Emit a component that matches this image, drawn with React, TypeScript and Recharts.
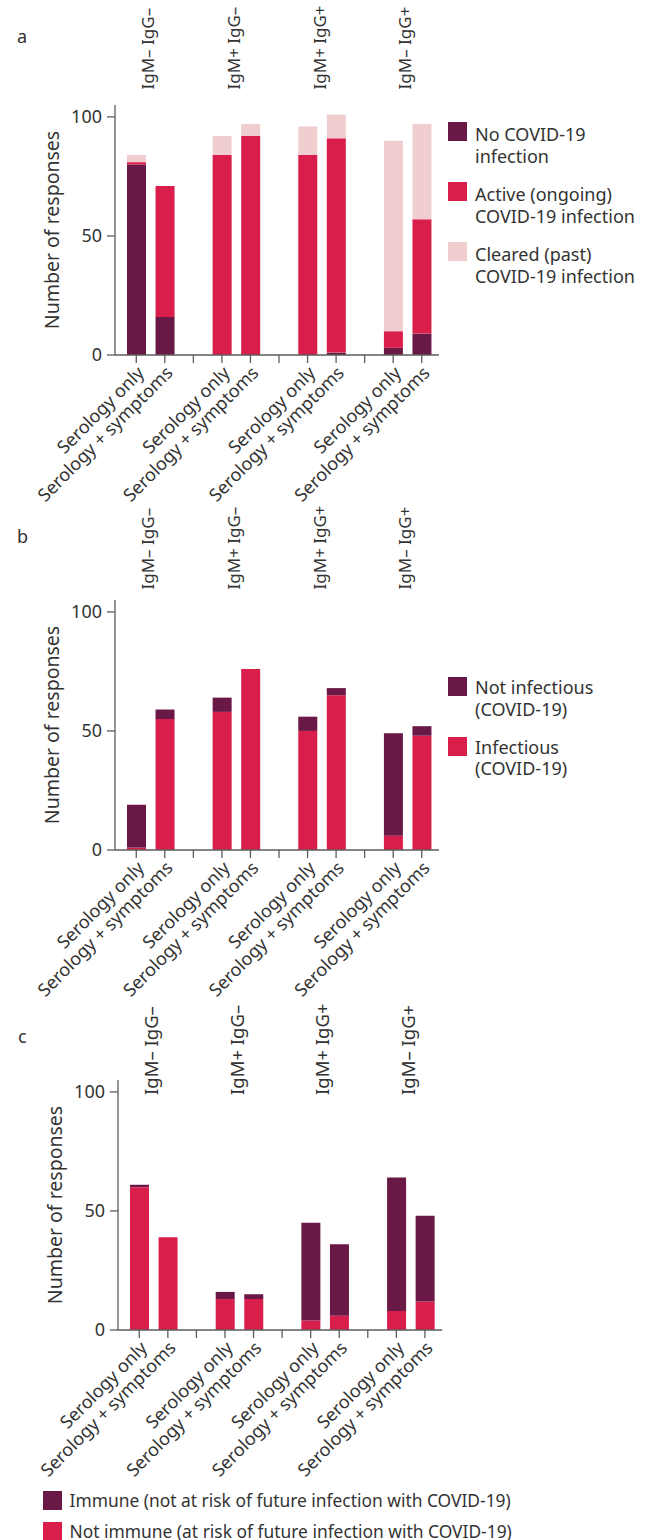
import { BarChart, Bar, XAxis, YAxis, Legend } from 'recharts';

const groups = ['IgM– IgG–', 'IgM+ IgG–', 'IgM+ IgG+', 'IgM– IgG+'];
const methods = ['Serology only', 'Serology + symptoms'];
const yTicks = [0, 50, 100];

// panel a
const noInfection = [80, 16, 0, 0, 0, 1, 3, 9];
const activeInfection = [1, 55, 84, 92, 84, 90, 7, 48];
const clearedInfection = [3, 0, 8, 5, 12, 10, 80, 40];

// panel b
const notInfectious = [18, 4, 6, 0, 6, 3, 43, 4];
const infectious = [1, 55, 58, 76, 50, 65, 6, 48];

// panel c
const immune = [1, 0, 3, 2, 41, 30, 56, 36];
const notImmune = [60, 39, 13, 13, 4, 6, 8, 12];

const FONT = '"Noto Sans", "DejaVu Sans", sans-serif';
const TEXT = '#333333';
const AXIS = '#5c5c5c';
const DARK = '#6a1845';
const RED = '#da1e4b';
const PINK = '#f0cdce';

type Row = { key: string; group: string; method: string; [k: string]: string | number | undefined };

// one row per bar, plus an empty slot between groups
function buildRows(series: Record<string, number[]>): Row[] {
  const rows: Row[] = [];
  groups.forEach((group, gi) => {
    methods.forEach((method, mi) => {
      const row: Row = { key: `${gi}-${mi}`, group, method };
      Object.keys(series).forEach((s) => {
        row[s] = series[s][gi * 2 + mi];
      });
      rows.push(row);
    });
    if (gi < groups.length - 1) rows.push({ key: `gap-${gi}`, group: '', method: '' });
  });
  return rows;
}

const rowsA = buildRows({ noInfection, activeInfection, clearedInfection });
const rowsB = buildRows({ notInfectious, infectious });
const rowsC = buildRows({ immune, notImmune });

function GroupTick(props: any) {
  const { x, y, payload, rows, shift, size } = props;
  const row = rows.find((r: Row) => r.key === payload.value);
  if (!row || row.method !== methods[0]) return <g />;
  const cx = x + (payload.offset ?? 14.3) - 2;
  const cy = y + shift;
  return (
    <text
      x={cx}
      y={cy}
      dy="0.35em"
      transform={`rotate(-90, ${cx}, ${cy})`}
      textAnchor="start"
      fill={TEXT}
      fontSize={size}
      fontFamily={FONT}
    >
      {row.group}
    </text>
  );
}

function LegendBox(props: any) {
  const { payload, order, itemHeight, textOffset, fontSize } = props;
  const items = order
    .map((k: string) => (payload || []).find((p: any) => p.dataKey === k))
    .filter(Boolean);
  return (
    <div style={{ fontFamily: FONT, fontSize, color: TEXT, lineHeight: '21.5px' }}>
      {items.map((it: any) => (
        <div key={it.dataKey} style={{ position: 'relative', height: itemHeight }}>
          <span
            style={{ position: 'absolute', left: 0, top: 0, width: 19, height: 19, background: it.color }}
          />
          <div style={{ position: 'absolute', left: 27, top: textOffset, whiteSpace: 'pre' }}>{it.value}</div>
        </div>
      ))}
    </div>
  );
}

type BarDef = { key: string; name: string; fill: string };

function Panel(props: {
  rows: Row[];
  bars: BarDef[];
  legendOrder: string[];
  legendLeft: number;
  legendTop: number;
  legendFont: number;
  itemHeight: number;
  textOffset: number;
  labelShift: number;
  labelSize: number;
  width: number;
  height: number;
  marginRight: number;
  marginBottom: number;
}) {
  const { rows, bars } = props;
  const axisStyle = { stroke: AXIS, strokeWidth: 1.3 };
  return (
    <BarChart
      width={props.width}
      height={props.height}
      data={rows}
      margin={{ top: 0, right: props.marginRight, bottom: props.marginBottom, left: 0 }}
      barSize={19}
    >
      <XAxis
        xAxisId="top"
        orientation="top"
        dataKey="key"
        height={105}
        padding={{ left: 7, right: 3 }}
        axisLine={false}
        tickLine={false}
        tickSize={0}
        tickMargin={0}
        interval={0}
        tick={(p: any) => <GroupTick {...p} rows={rows} shift={props.labelShift} size={props.labelSize} />}
      />
      <XAxis
        xAxisId="bottom"
        dataKey="key"
        height={155}
        padding={{ left: 7, right: 3 }}
        interval={0}
        angle={-45}
        textAnchor="end"
        tickSize={8}
        tickMargin={2}
        tickFormatter={(k: string) => rows.find((r) => r.key === k)?.method ?? ''}
        tick={{ fill: TEXT, fontSize: 18, fontFamily: FONT }}
        axisLine={axisStyle}
        tickLine={axisStyle}
      />
      <YAxis
        width={115}
        domain={[0, 105]}
        ticks={yTicks}
        tickSize={8}
        tickMargin={5}
        tick={{ fill: TEXT, fontSize: 18, fontFamily: FONT }}
        axisLine={axisStyle}
        tickLine={axisStyle}
        label={{
          value: 'Number of responses',
          angle: -90,
          position: 'center',
          dx: -5,
          style: { fill: TEXT, fontSize: 19.5, fontFamily: FONT, textAnchor: 'middle' },
        }}
      />
      {bars.map((b) => (
        <Bar
          key={b.key}
          xAxisId="bottom"
          dataKey={b.key}
          name={b.name}
          stackId="s"
          fill={b.fill}
          isAnimationActive={false}
        />
      ))}
      <Legend
        layout="vertical"
        align="center"
        verticalAlign="middle"
        wrapperStyle={{ left: props.legendLeft, top: props.legendTop }}
        content={(p: any) => (
          <LegendBox
            {...p}
            order={props.legendOrder}
            itemHeight={props.itemHeight}
            textOffset={props.textOffset}
            fontSize={props.legendFont}
          />
        )}
      />
    </BarChart>
  );
}

const letterStyle: React.CSSProperties = {
  position: 'absolute',
  fontFamily: FONT,
  fontSize: 18,
  lineHeight: '18px',
  color: TEXT,
};

export default function App() {
  return (
    <div style={{ position: 'absolute', left: 0, top: 0, width: 651, height: 1540, background: '#fff' }}>
      <div style={{ ...letterStyle, left: 17, top: 27 }}>a</div>
      <div style={{ ...letterStyle, left: 17, top: 527 }}>b</div>
      <div style={{ ...letterStyle, left: 18, top: 1027 }}>c</div>

      <div style={{ position: 'absolute', left: 0, top: 0 }}>
        <Panel
          rows={rowsA}
          bars={[
            { key: 'noInfection', name: 'No COVID-19\ninfection', fill: DARK },
            { key: 'activeInfection', name: 'Active (ongoing)\nCOVID-19 infection', fill: RED },
            { key: 'clearedInfection', name: 'Cleared (past)\nCOVID-19 infection', fill: PINK },
          ]}
          legendOrder={['noInfection', 'activeInfection', 'clearedInfection']}
          legendLeft={448}
          legendTop={122}
          legendFont={18}
          itemHeight={60}
          textOffset={2}
          labelShift={-15.5}
          labelSize={17}
          width={651}
          height={510}
          marginRight={212}
          marginBottom={0}
        />
      </div>

      <div style={{ position: 'absolute', left: 0, top: 495 }}>
        <Panel
          rows={rowsB}
          bars={[
            { key: 'infectious', name: 'Infectious\n(COVID-19)', fill: RED },
            { key: 'notInfectious', name: 'Not infectious\n(COVID-19)', fill: DARK },
          ]}
          legendOrder={['notInfectious', 'infectious']}
          legendLeft={448}
          legendTop={182}
          legendFont={18}
          itemHeight={59.5}
          textOffset={0}
          labelShift={-10.5}
          labelSize={17}
          width={651}
          height={510}
          marginRight={212}
          marginBottom={0}
        />
      </div>

      <div style={{ position: 'absolute', left: 2.5, top: 975 }}>
        <Panel
          rows={rowsC}
          bars={[
            { key: 'notImmune', name: 'Not immune (at risk of future infection with COVID-19)', fill: RED },
            { key: 'immune', name: 'Immune (not at risk of future infection with COVID-19)', fill: DARK },
          ]}
          legendOrder={['immune', 'notImmune']}
          legendLeft={40}
          legendTop={516}
          legendFont={17.4}
          itemHeight={31}
          textOffset={-1}
          labelShift={15}
          labelSize={18.5}
          width={648.5}
          height={565}
          marginRight={209.3}
          marginBottom={55}
        />
      </div>
    </div>
  );
}
